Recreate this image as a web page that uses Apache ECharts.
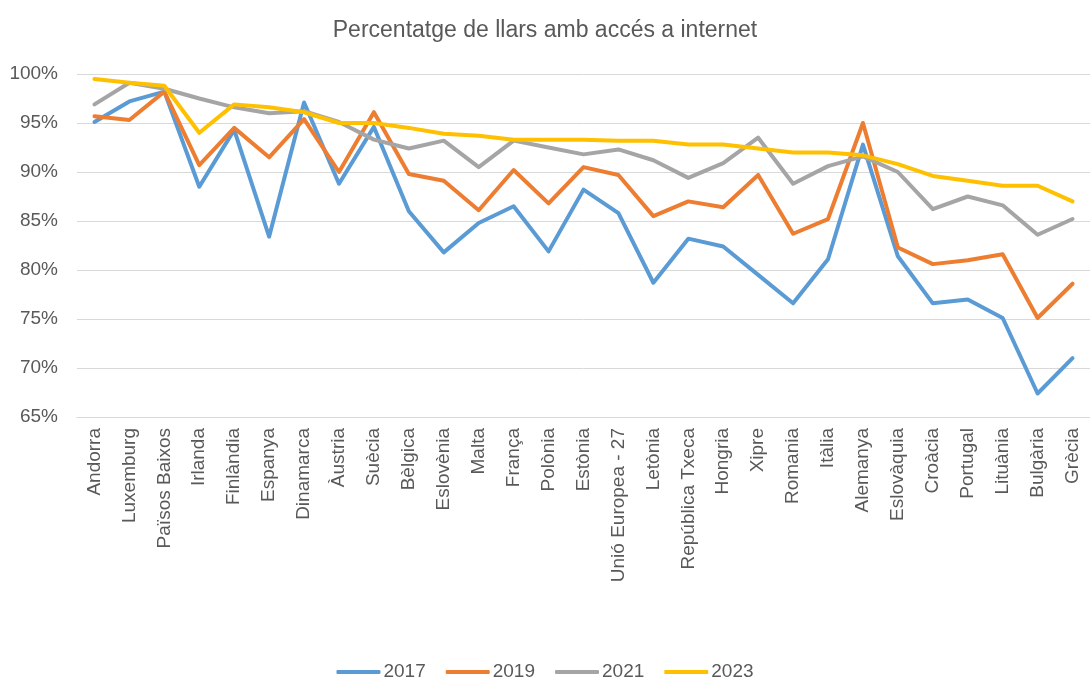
<!DOCTYPE html>
<html>
<head>
<meta charset="utf-8">
<script src="https://cdn.jsdelivr.net/npm/echarts@6/dist/echarts.min.js"></script>
<style>
  html, body { margin: 0; padding: 0; background: #fff; }
  #chart { width: 1090px; height: 679px; }
</style>
</head>
<body>
<div id="chart"></div>
<script>
const countries = ['Andorra', 'Luxemburg', 'Països Baixos', 'Irlanda', 'Finlàndia', 'Espanya', 'Dinamarca', 'Àustria', 'Suècia', 'Bèlgica', 'Eslovènia', 'Malta', 'França', 'Polònia', 'Estònia', 'Unió Europea - 27', 'Letònia', 'República Txeca', 'Hongria', 'Xipre', 'Romania', 'Itàlia', 'Alemanya', 'Eslovàquia', 'Croàcia', 'Portugal', 'Lituània', 'Bulgària', 'Grècia']

const y2017 = [95.1, 97.2, 98.2, 88.5, 94.3, 83.4, 97.1, 88.8, 94.6, 86.0, 81.8, 84.8, 86.5, 81.9, 88.2, 85.8, 78.7, 83.2, 82.4, 79.5, 76.6, 81.1, 92.8, 81.4, 76.6, 77.0, 75.1, 67.4, 71.0]
const y2019 = [95.7, 95.3, 98.2, 90.7, 94.5, 91.5, 95.4, 90.0, 96.1, 89.8, 89.1, 86.1, 90.2, 86.8, 90.5, 89.7, 85.5, 87.0, 86.4, 89.7, 83.7, 85.2, 95.0, 82.3, 80.6, 81.0, 81.6, 75.1, 78.6]
const y2021 = [96.9, 99.1, 98.5, 97.5, 96.6, 96.0, 96.2, 95.1, 93.3, 92.4, 93.2, 90.5, 93.2, 92.5, 91.8, 92.3, 91.2, 89.4, 90.9, 93.5, 88.8, 90.6, 91.6, 90.0, 86.2, 87.5, 86.6, 83.6, 85.2]
const y2023 = [99.5, 99.1, 98.8, 94.0, 96.9, 96.6, 96.1, 95.0, 95.0, 94.5, 93.9, 93.7, 93.3, 93.3, 93.3, 93.2, 93.2, 92.8, 92.8, 92.4, 92.0, 92.0, 91.7, 90.8, 89.6, 89.1, 88.6, 88.6, 87.0]

const years = ['2017', '2019', '2021', '2023']
const colors = ['#5B9BD5', '#ED7D31', '#A5A5A5', '#FFC000']
const values = [y2017, y2019, y2021, y2023]

const font = 'Liberation Sans, Arial, sans-serif'
const myChart = echarts.init(document.getElementById('chart'))

myChart.setOption({
  animation: false,
  color: colors,
  title: {
    text: 'Percentatge de llars amb accés a internet',
    left: 'center',
    top: 14,
    textStyle: { fontFamily: font, fontSize: 23, fontWeight: 'normal', color: '#595959' }
  },
  legend: {
    data: years,
    top: 656,
    left: 'center',
    icon: 'roundRect',
    itemWidth: 44,
    itemHeight: 4,
    itemGap: 20,
    textStyle: { fontFamily: font, fontSize: 19, lineHeight: 22, color: '#595959', padding: [0, 0, 0, -2] }
  },
  grid: {
    left: 77,
    top: 74,
    width: 1022,
    height: 343
  },
  xAxis: {
    type: 'category',
    data: countries,
    boundaryGap: true,
    axisLine: { lineStyle: { color: '#d9d9d9', width: 1 } },
    axisTick: { show: false },
    axisLabel: {
      interval: 0,
      rotate: 90,
      margin: 11,
      fontFamily: font,
      fontSize: 19,
      color: '#595959'
    }
  },
  yAxis: {
    type: 'value',
    min: 65,
    max: 100,
    interval: 5,
    axisLine: { show: false },
    axisTick: { show: false },
    splitLine: { lineStyle: { color: '#d9d9d9', width: 1 } },
    axisLabel: {
      formatter: '{value}%',
      margin: 19,
      fontFamily: font,
      fontSize: 19,
      color: '#595959'
    }
  },
  series: years.map((name, i) => ({
    name: name,
    type: 'line',
    data: values[i],
    symbol: 'none',
    lineStyle: { width: 4, color: colors[i], join: 'round', cap: 'round' },
    itemStyle: { color: colors[i] }
  }))
})
</script>
</body>
</html>
